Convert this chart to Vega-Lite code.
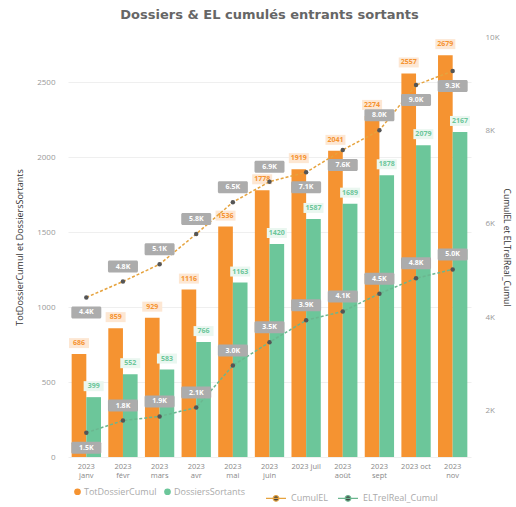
{
  "$schema": "https://vega.github.io/schema/vega-lite/v6.json",
  "width": 403,
  "height": 420,
  "autosize": {"type": "none"},
  "padding": {"left": 68, "top": 37, "right": 45, "bottom": 50},
  "background": "white",
  "title": {"text": "Dossiers & EL cumulés entrants sortants", "font": "DejaVu Sans", "fontSize": 13, "fontWeight": "bold", "color": "#666666", "anchor": "middle", "offset": 11},
  "config": {
    "view": {"stroke": null},
    "font": "Open Sans",
    "axis": {"labelColor": "#999999", "labelFontSize": 8, "titleColor": "#333333", "titleFontSize": 9, "titleFontWeight": "normal", "domain": false, "ticks": false}
  },
  "data": {"values": [
    {"mois": "2023 janv", "TotDossierCumul": 686, "DossiersSortants": 399, "CumulEL": 4420, "ELTrelReal_Cumul": 1520},
    {"mois": "2023 févr", "TotDossierCumul": 859, "DossiersSortants": 552, "CumulEL": 4760, "ELTrelReal_Cumul": 1780},
    {"mois": "2023 mars", "TotDossierCumul": 929, "DossiersSortants": 583, "CumulEL": 5130, "ELTrelReal_Cumul": 1870},
    {"mois": "2023 avr", "TotDossierCumul": 1116, "DossiersSortants": 766, "CumulEL": 5780, "ELTrelReal_Cumul": 2060},
    {"mois": "2023 mai", "TotDossierCumul": 1536, "DossiersSortants": 1163, "CumulEL": 6460, "ELTrelReal_Cumul": 2960},
    {"mois": "2023 juin", "TotDossierCumul": 1778, "DossiersSortants": 1420, "CumulEL": 6900, "ELTrelReal_Cumul": 3460},
    {"mois": "2023 juil", "TotDossierCumul": 1919, "DossiersSortants": 1587, "CumulEL": 7100, "ELTrelReal_Cumul": 3930},
    {"mois": "2023 août", "TotDossierCumul": 2041, "DossiersSortants": 1689, "CumulEL": 7580, "ELTrelReal_Cumul": 4120},
    {"mois": "2023 sept", "TotDossierCumul": 2274, "DossiersSortants": 1878, "CumulEL": 8000, "ELTrelReal_Cumul": 4500},
    {"mois": "2023 oct", "TotDossierCumul": 2557, "DossiersSortants": 2079, "CumulEL": 8970, "ELTrelReal_Cumul": 4830},
    {"mois": "2023 nov", "TotDossierCumul": 2679, "DossiersSortants": 2167, "CumulEL": 9270, "ELTrelReal_Cumul": 5020}
  ]},
  "encoding": {
    "x": {"field": "mois", "type": "nominal", "sort": null, "title": null,
      "scale": {"paddingInner": 0.2, "paddingOuter": 0.1},
      "axis": {"labelAngle": 0, "labelColor": "#888888", "labelFontSize": 7.5, "labelLineHeight": 9, "labelPadding": 5, "labelBaseline": "top",
        "labelExpr": "indexof(['2023 juil','2023 oct'], datum.value) >= 0 ? datum.value : split(datum.value, ' ')"}}
  },
  "layer": [
    {
      "transform": [{"fold": ["TotDossierCumul", "DossiersSortants"], "as": ["serie", "valeur"]}],
      "encoding": {
        "y": {"field": "valeur", "type": "quantitative", "scale": {"domain": [0, 2800], "nice": false},
          "axis": {"title": "TotDossierCumul et DossiersSortants", "format": "d", "values": [0, 500, 1000, 1500, 2000, 2500], "grid": true, "gridColor": "#EFEFEF", "labelPadding": 13, "titlePadding": 12}},
        "xOffset": {"field": "serie", "type": "nominal", "sort": ["TotDossierCumul", "DossiersSortants"], "scale": {"paddingInner": 0, "paddingOuter": 0}}
      },
      "layer": [
        {"mark": {"type": "bar"},
         "encoding": {"color": {"field": "serie", "type": "nominal", "sort": ["TotDossierCumul", "DossiersSortants"],
           "scale": {"domain": ["TotDossierCumul", "DossiersSortants"], "range": ["#F59331", "#6CC69A"]},
           "legend": {"title": null, "orient": "none", "legendX": 5, "legendY": 450, "direction": "horizontal", "symbolType": "circle", "symbolSize": 45, "labelFontSize": 9, "labelColor": "#AAAAAA", "columnPadding": 6, "labelOffset": 2}}}},
        {"mark": {"type": "point", "shape": "M-1,-1.6H1V-0.6H-1Z", "size": 400, "filled": true, "opacity": 1, "strokeWidth": 0},
         "encoding": {"fill": {"field": "serie", "type": "nominal", "scale": {"domain": ["TotDossierCumul", "DossiersSortants"], "range": ["#FDE7D3", "#EAF7F0"]}, "legend": null}}},
        {"mark": {"type": "text", "dy": -11, "fontSize": 7, "fontWeight": "bold"},
         "encoding": {"text": {"field": "valeur", "type": "quantitative", "format": "d"},
           "color": {"field": "serie", "type": "nominal", "legend": null}}}
      ]
    },
    {
      "transform": [
        {"fold": ["CumulEL", "ELTrelReal_Cumul"], "as": ["serie", "valeur"]},
        {"calculate": "format(datum.valeur/1000, '.1f') + 'K'", "as": "lab"}
      ],
      "encoding": {
        "y": {"field": "valeur", "type": "quantitative", "scale": {"domain": [1000, 10000], "nice": false, "zero": false},
          "axis": {"orient": "right", "title": "CumulEL et ELTrelReal_Cumul", "titleAngle": 90, "titleFontSize": 8.5, "titlePadding": 2, "values": [2000, 4000, 6000, 8000, 10000], "labelExpr": "(datum.value/1000) + 'K'", "grid": false, "labelPadding": 14}}
      },
      "layer": [
        {"mark": {"type": "line", "strokeDash": [3, 2], "strokeWidth": 1.5},
         "encoding": {"stroke": {"field": "serie", "type": "nominal", "scale": {"domain": ["CumulEL", "ELTrelReal_Cumul"], "range": ["#E6A33E", "#6BB68F"]},
           "legend": {"title": null, "orient": "none", "legendX": 197, "legendY": 450, "direction": "horizontal",
             "symbolType": "M-1,0H1M-0.28,0A0.28,0.28 0 1 0 0.28,0A0.28,0.28 0 1 0 -0.28,0Z", "symbolSize": 400, "symbolStrokeWidth": 1.2,
             "labelFontSize": 9, "labelColor": "#AAAAAA", "columnPadding": 6, "labelOffset": 4,
             "encode": {"symbols": {"update": {"fill": {"value": "#444444"}}}}}}}},
        {"mark": {"type": "point", "filled": true, "color": "#555555", "size": 20, "opacity": 1},
         "encoding": {"detail": {"field": "serie"}}},
        {"transform": [{"filter": "(datum.serie == 'CumulEL' && indexof(['2023 janv','2023 juil','2023 août','2023 oct','2023 nov'], datum.mois) >= 0) || (datum.serie == 'ELTrelReal_Cumul' && datum.mois == '2023 janv')"}],
         "mark": {"type": "point", "shape": "M-0.9,0.6H0.9A0.1,0.1 0 0 1 1,0.7V1.3A0.1,0.1 0 0 1 0.9,1.4H-0.9A0.1,0.1 0 0 1 -1,1.3V0.7A0.1,0.1 0 0 1 -0.9,0.6Z", "size": 900, "filled": true, "color": "#ACACAC", "opacity": 1, "strokeWidth": 0}},
        {"transform": [{"filter": "!((datum.serie == 'CumulEL' && indexof(['2023 janv','2023 juil','2023 août','2023 oct','2023 nov'], datum.mois) >= 0) || (datum.serie == 'ELTrelReal_Cumul' && datum.mois == '2023 janv'))"}],
         "mark": {"type": "point", "shape": "M-0.9,-1.4H0.9A0.1,0.1 0 0 1 1,-1.3V-0.7A0.1,0.1 0 0 1 0.9,-0.6H-0.9A0.1,0.1 0 0 1 -1,-0.7V-1.3A0.1,0.1 0 0 1 -0.9,-1.4Z", "size": 900, "filled": true, "color": "#ACACAC", "opacity": 1, "strokeWidth": 0}},
        {"transform": [{"filter": "(datum.serie == 'CumulEL' && indexof(['2023 janv','2023 juil','2023 août','2023 oct','2023 nov'], datum.mois) >= 0) || (datum.serie == 'ELTrelReal_Cumul' && datum.mois == '2023 janv')"}],
         "mark": {"type": "text", "dy": 15, "color": "white", "fontSize": 7, "fontWeight": "bold"},
         "encoding": {"text": {"field": "lab", "type": "nominal"}}},
        {"transform": [{"filter": "!((datum.serie == 'CumulEL' && indexof(['2023 janv','2023 juil','2023 août','2023 oct','2023 nov'], datum.mois) >= 0) || (datum.serie == 'ELTrelReal_Cumul' && datum.mois == '2023 janv'))"}],
         "mark": {"type": "text", "dy": -15, "color": "white", "fontSize": 7, "fontWeight": "bold"},
         "encoding": {"text": {"field": "lab", "type": "nominal"}}}
      ]
    }
  ],
  "resolve": {"scale": {"y": "independent"}}
}
